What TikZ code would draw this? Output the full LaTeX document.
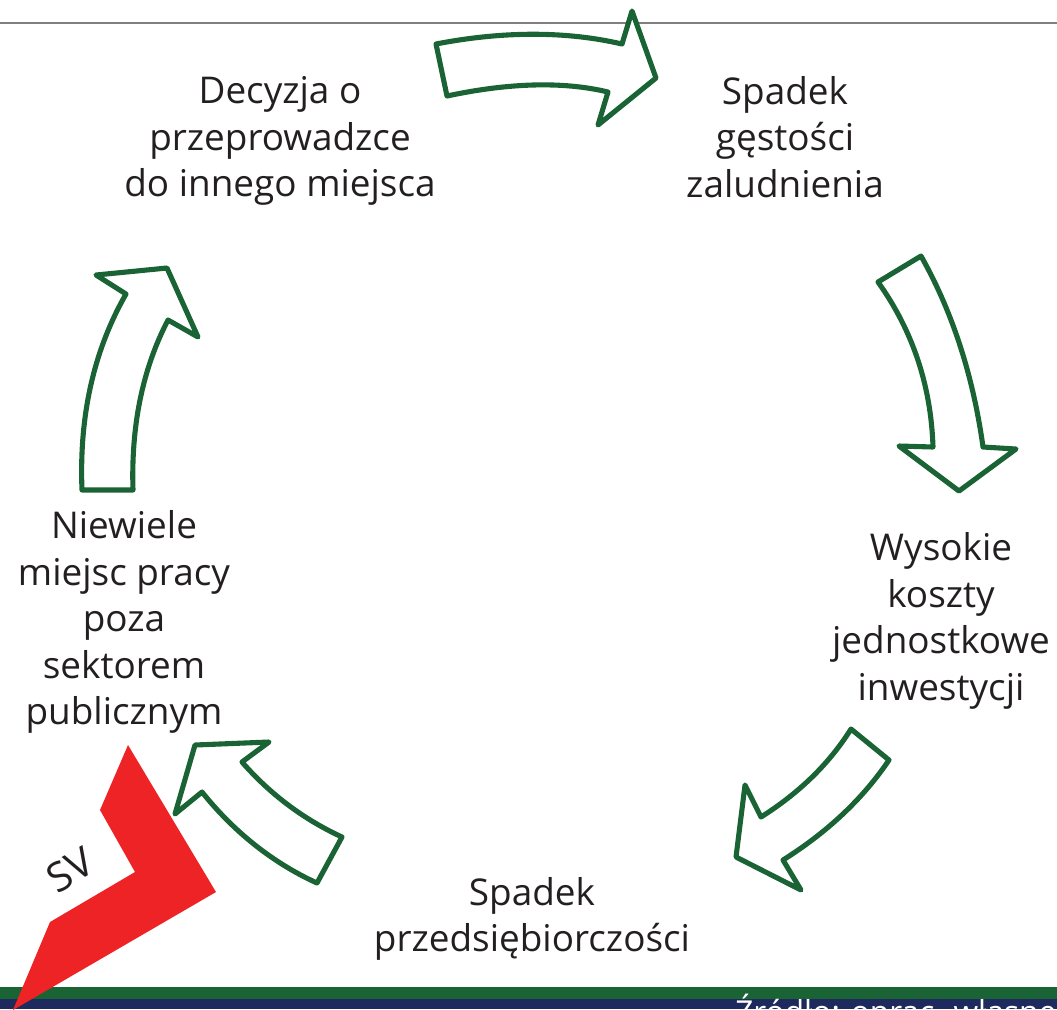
\documentclass[tikz,border=0pt]{standalone}
\usepackage{fontspec}
\setmainfont{Open Sans}
\definecolor{arrowgreen}{HTML}{1A6334}
\definecolor{bandnavy}{HTML}{1E2A5E}
\definecolor{boltred}{HTML}{EE2326}
\definecolor{labelgray}{HTML}{231F20}
\begin{document}
\begin{tikzpicture}[
		x=0.02cm,
		y=-0.02cm,
		blockarrow/.style={draw=arrowgreen,fill=white,line width=2.9pt,line join=round},
		label/.style={align=center,text=labelgray,inner sep=0pt,font=\fontsize{21}{26.5}\selectfont}
	]
	\useasboundingbox (0,0) rectangle (1057,1009);
	\clip (0,0) rectangle (1057,1009);
	\draw[draw=gray,line width=1pt] (0,23) -- (1057,23);
	\fill[arrowgreen] (0,987) rectangle (1057,999);
	\fill[bandnavy] (0,999) rectangle (1057,1009);
	\node[anchor=base west,text=white,inner sep=0pt,font=\fontsize{18}{22}\selectfont] (source) at (735,1023) {Źródło: oprac. własne};
	\node[label] (decision) at (280,141) {Decyzja o\\przeprowadzce\\do innego miejsca};
	\node[label] (density) at (785,137) {Spadek\\gęstości\\zaludnienia};
	\node[label] (costs) at (941,621) {Wysokie\\koszty\\jednostkowe\\inwestycji};
	\node[label] (enterprise) at (532,919) {Spadek\\przedsiębiorczości};
	\node[label] (jobs) at (124,622) {Niewiele\\miejsc pracy\\poza\\sektorem\\publicznym};
	\draw[blockarrow] (436,44) .. controls (503,31) and (566,31) .. (622,44) -- (632,11) -- (656,78) -- (598,125) -- (608,92) .. controls (562,81) and (508,83) .. (447,96) -- cycle;
	\draw[blockarrow] (878,282) -- (921,256) .. controls (952,311) and (973,375) .. (983,447) -- (1016,449) -- (959,491) -- (899,446) -- (933,447) .. controls (931,386) and (913,331) .. cycle;
	\draw[blockarrow] (851,729) -- (889,760) .. controls (862,800) and (826,833) .. (783,860) -- (801,890) -- (736,857) -- (745,785) -- (761,817) .. controls (799,793) and (829,764) .. cycle;
	\draw[blockarrow] (342,837) -- (317,883) .. controls (273,863) and (234,832) .. (202,792) -- (175,814) -- (195,745) -- (269,742) -- (242,762) .. controls (270,794) and (303,819) .. cycle;
	\draw[blockarrow] (82,490) -- (133,490) .. controls (131,427) and (142,370) .. (168,320) -- (198,337) -- (167,268) -- (96,275) -- (126,294) .. controls (94,350) and (79,415) .. cycle;
	\fill[boltred] (128,745) -- (216,892) -- (13,1010) -- (50,922) -- (135,872) -- (100,810) -- cycle;
	\node[text=labelgray,inner sep=0pt,rotate=30,font=\fontsize{23}{28}\selectfont] (sv) at (70,870) {SV};
\end{tikzpicture}
\end{document}
